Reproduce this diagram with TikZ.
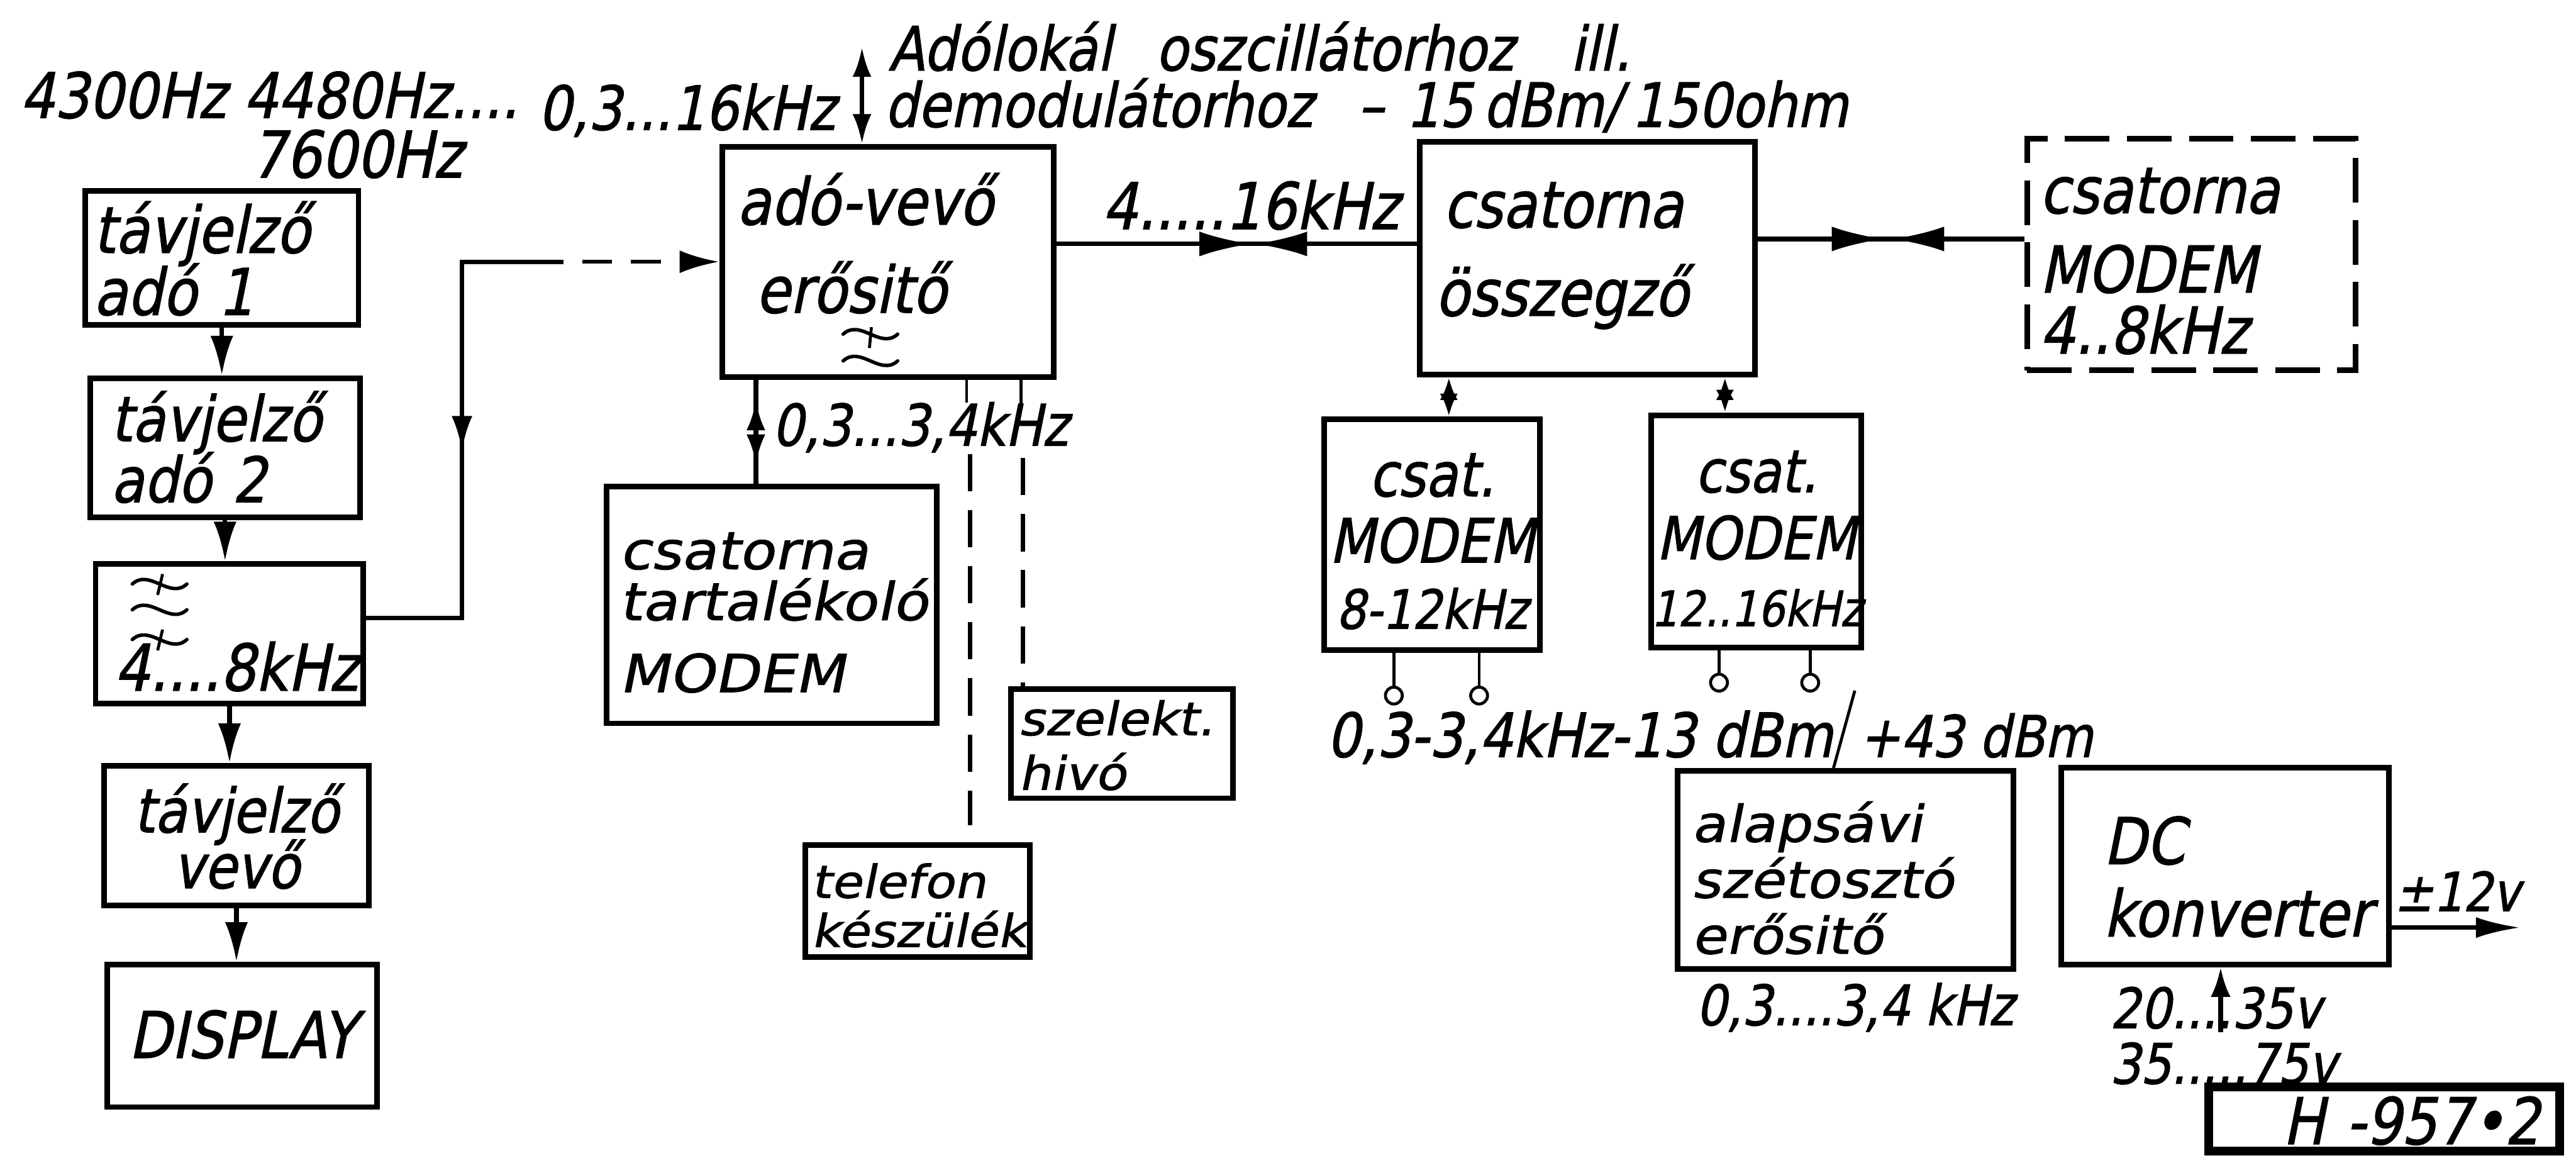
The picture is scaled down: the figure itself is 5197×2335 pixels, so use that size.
\documentclass[tikz,border=0pt]{standalone}
\usepackage{fontspec}
\usetikzlibrary{arrows.meta,decorations.markings}
\newfontfamily\hand{DejaVu Sans}[FakeSlant=0.2,FakeStretch=0.86,FakeBold=1.2]
\newfontfamily\handw{DejaVu Sans}[FakeSlant=0.2,FakeStretch=1.1,FakeBold=1.2]
\newcommand\fsz[2]{\fontsize{#1pt}{#2pt}\selectfont\lineskiplimit=-100pt\hyphenpenalty=10000\exhyphenpenalty=10000\relax}
\lineskiplimit=-100pt
\begin{document}
\begin{tikzpicture}[x=0.01cm,y=-0.01cm,
  blk/.style={draw,line width=3.2pt,rectangle,inner sep=0pt,align=left},
  lbl/.style={anchor=base west,inner sep=0pt,font=\hand\fsz{37}{44}},
  wire/.style={line width=2.6pt},
  thinw/.style={line width=1.7pt},
  dashw/.style={line width=2.4pt,dash pattern=on 0.75cm off 0.38cm},
  arr/.style={-{Latex[length=8mm,width=4.6mm]}},
  darr/.style={{Latex[length=6mm,width=3.8mm]}-{Latex[length=6mm,width=3.8mm]}},
  darrs/.style={{Latex[length=4.6mm,width=3.6mm]}-{Latex[length=4.6mm,width=3.6mm]}},
  midpair/.style 2 args={postaction={decorate},decoration={markings,
     mark=at position #1 with {\arrow{Latex[length=10.5mm,width=5mm]}},
     mark=at position #2 with {\arrowreversed{Latex[length=10.5mm,width=5mm]}}}},
  vpair/.style 2 args={postaction={decorate},decoration={markings,
     mark=at position #1 with {\arrowreversed{Latex[length=6mm,width=3.8mm]}},
     mark=at position #2 with {\arrow{Latex[length=6mm,width=3.8mm]}}}},
  pics/tld/.style={code={\draw[line width=2pt,line cap=round] (-55,0) .. controls (-20,-32) and (20,32) .. (55,0);}},
]
\fill[white] (0,0) rectangle (5197,2335);
\useasboundingbox (0,0) rectangle (5197,2335);

% ---------- left column ----------
\node[blk,font=\hand\fsz{37}{35.6},minimum width=5.51cm,minimum height=2.70cm,text width=5.17cm,text height=0cm,text depth=0.2cm] (tav1) at (447.5,520) {távjelző\\adó 1};
\node[blk,font=\hand\fsz{36}{35},minimum width=5.44cm,minimum height=2.81cm,text width=4.60cm,text height=0cm,text depth=0.27cm] (tav2) at (454,903.5) {távjelző\\adó 2};
\node[blk,font=\hand\fsz{37}{40},minimum width=5.40cm,minimum height=2.81cm,text width=4.64cm,text height=2.29cm,text depth=0cm] (filt) at (463,1278.5) {4....8kHz};
\node[blk,align=center,font=\hand\fsz{35}{32},minimum width=5.34cm,minimum height=2.81cm,text width=5.34cm,text height=0cm,text depth=0.13cm] (vevo) at (477,1685.5) {távjelző\\vevő};
\node[blk,align=center,font=\hand\fsz{37}{40},minimum width=5.44cm,minimum height=2.87cm,text width=5.44cm,text height=0.89cm,text depth=0cm] (disp) at (489,2089.5) {DISPLAY};

% ---------- middle ----------
\node[blk,font=\hand\fsz{37}{50.6},minimum width=6.69cm,minimum height=4.64cm,text width=6.09cm,text height=0cm,text depth=1.5cm] (adovevo) at (1791.5,528) {adó-vevő\\\hspace*{0.38cm}erősitő};
\node[blk,font=\handw\fsz{30}{29.3},minimum width=6.66cm,minimum height=4.77cm,text width=6.14cm,text height=0cm,text depth=1.45cm] (tartalek) at (1557,1220.5) {csatorna\\tartalékoló\\[0.42cm]MODEM};
\node[blk,font=\handw\fsz{26}{28.2},minimum width=4.52cm,minimum height=2.25cm,text width=4.28cm,text height=0cm,text depth=0.13cm] (telefon) at (1851,1817.5) {telefon\\készülék};
\node[blk,font=\handw\fsz{26.5}{31.3},minimum width=4.47cm,minimum height=2.20cm,text width=4.17cm,text height=0cm,text depth=0.34cm] (szelekt) at (2263.5,1500) {szelekt.\\hivó};

% ---------- right part ----------
\node[blk,font=\hand\fsz{37}{50.6},minimum width=6.76cm,minimum height=4.69cm,text width=6.12cm,text height=0cm,text depth=1.23cm] (osszegzo) at (3202,520.5) {\hspace*{0.16cm}csatorna\\összegző};
\node[blk,dash pattern=on 0.9cm off 0.35cm,font=\hand\fsz{37}{35},minimum width=6.62cm,minimum height=4.67cm,text width=6.12cm,text height=0cm,text depth=1.67cm] (m48) at (4421,513.5) {csatorna\\[0.37cm]MODEM\\4..8kHz};
\node[blk,align=center,font=\hand\fsz{35}{38},minimum width=4.36cm,minimum height=4.65cm,text width=4.36cm,text height=0cm,text depth=1.55cm] (m812) at (2889,1078.5) {csat.\\MODEM\\{\fsz{31}{38}8-12kHz}};
\node[blk,align=center,font=\hand\fsz{34}{38.4},minimum width=4.24cm,minimum height=4.68cm,text width=4.24cm,text height=0cm,text depth=1.58cm] (m1216) at (3543,1072) {csat.\\MODEM\\{\fsz{28}{38.4}12..16kHz}};
\node[blk,font=\handw\fsz{29}{32.1},minimum width=6.77cm,minimum height=3.99cm,text width=6.21cm,text height=0cm,text depth=1.13cm] (alap) at (3723.5,1754.5) {alapsávi\\szétosztó\\erősitő};
\node[blk,font=\hand\fsz{37}{41.5},minimum width=6.60cm,minimum height=3.96cm,text width=6.40cm,text height=0cm,text depth=0.08cm] (dc) at (4489,1747) {\hspace*{0.75cm}DC\\\hspace*{0.75cm}konverter};
\node[blk,line width=5pt,align=right,font=\hand\fsz{37}{40},minimum width=7.08cm,minimum height=1.30cm,text width=6.28cm,text height=1.02cm,text depth=0cm] (hbox) at (4810,2257) {H -957•2};

% ---------- free labels ----------
\node[lbl,font=\hand\fsz{36}{44}] (l4300) at (40,238) {4300Hz 4480Hz....};
\node[lbl] (l7600) at (505,358) {7600Hz};
\node[lbl,font=\hand\fsz{35}{40}] (l016) at (1085,262) {0,3...16kHz};
\node[lbl,font=\hand\fsz{35}{44}] (ladol) at (1792,142) {Adólokál\hspace{0.55cm} oszcillátorhoz\hspace{0.8cm} ill.};
\node[lbl,font=\hand\fsz{35}{44}] (ldem) at (1784,256) {demodulátorhoz\hspace{0.9cm}–\hspace{0.45cm}15\,dBm/\,150ohm};
\node[lbl] (l416) at (2223,462) {4.....16kHz};
\node[lbl,font=\hand\fsz{33}{40}] (l0334) at (1557,899) {0,3...3,4kHz};
\node[lbl,font=\hand\fsz{35}{40}] (lb1) at (2676,1527) {0,3-3,4kHz-13 dBm};
\node[lbl,font=\hand\fsz{33}{40}] (lb2) at (3750,1527) {+43 dBm};
\node[lbl,font=\hand\fsz{32}{40}] (lalapf) at (3421,2068) {0,3....3,4 kHz};
\node[lbl,font=\hand\fsz{31}{40}] (l12v) at (4830,1838) {±12v};
\node[lbl,font=\hand\fsz{32}{40}] (l2035) at (4256,2074) {20....35v};
\node[lbl,font=\hand\fsz{32}{40}] (l3575) at (4256,2186) {35.....75v};

% ---------- connectors ----------
\draw[wire,arr] (tav1.south) -- (tav1.south |- tav2.north);
\draw[wire,arr] (tav2.south) -- (tav2.south |- filt.north);
\draw[wire,arr] (filt.south) -- (filt.south |- vevo.north);
\draw[wire,arr] (vevo.south) -- (vevo.south |- disp.north);

\coordinate (f1) at (932,1247);
\coordinate (f2) at (932,528);
\coordinate (f3) at (1137,528);
\draw[wire,line join=miter] (filt.east |- f1) -- (f1) -- (f2) -- (f3);
\draw[wire,postaction={decorate},decoration={markings,mark=at position 0.47 with {\arrowreversed{Latex[length=7mm,width=4.2mm]}}}] (f1) -- (f2);
\draw[dashw,dash pattern=on 0.6cm off 0.38cm,dash phase=0.6cm,arr] (f3) -- (adovevo.west |- f3);

\coordinate (tp) at (1739,95);
\draw[wire,darr] (tp) -- (tp |- adovevo.north);

\coordinate (h1) at (2500,492);
\draw[wire,midpair={0.541}{0.551}] (adovevo.east |- h1) -- (osszegzo.west |- h1);
\coordinate (h2) at (3800,482);
\draw[wire,midpair={0.473}{0.504}] (osszegzo.east |- h2) -- (m48.west |- h2);

\coordinate (t1) at (1525,870);
\draw[wire,vpair={0.2}{0.81}] (adovevo.south -| t1) -- (tartalek.north -| t1);

\coordinate (s1) at (1950,812);
\coordinate (s2) at (2060,814);
\draw[thinw] (adovevo.south -| s1) -- (s1);
\draw[thinw] (adovevo.south -| s2) -- (s2);
\coordinate (d1) at (1957,916);
\coordinate (d1e) at (1957,1665);
\coordinate (d2) at (2064,924);
\draw[dashw] (d1) -- (d1e);
\draw[dashw] (d2) -- (d2 |- szelekt.north);

\coordinate (q1) at (2923,800);
\coordinate (q2) at (3480,800);
\draw[wire,darrs] (osszegzo.south -| q1) -- (m812.north -| q1);
\draw[wire,darrs] (osszegzo.south -| q2) -- (m1216.north -| q2);

\node[circle,draw,thinw,fill=white,minimum size=0.34cm,inner sep=0pt] (o1) at (2812,1403) {};
\node[circle,draw,thinw,fill=white,minimum size=0.34cm,inner sep=0pt] (o2) at (2984,1403) {};
\node[circle,draw,thinw,fill=white,minimum size=0.34cm,inner sep=0pt] (o3) at (3468,1377) {};
\node[circle,draw,thinw,fill=white,minimum size=0.34cm,inner sep=0pt] (o4) at (3652,1377) {};
\draw[thinw] (m812.south -| o1) -- (o1.north);
\draw[thinw] (m812.south -| o2) -- (o2.north);
\draw[thinw] (m1216.south -| o3) -- (o3.north);
\draw[thinw] (m1216.south -| o4) -- (o4.north);

\coordinate (sl) at (3742,1393);
\coordinate (slb) at (3699,1500);
\draw[thinw] (sl) -- (slb |- alap.north);

\coordinate (v12) at (5085,1871);
\draw[wire,-{Latex[length=9mm,width=4.2mm]}] (dc.east |- v12) -- (v12);
\coordinate (vin) at (4480,2082);
\draw[wire,-{Latex[length=6mm,width=4mm]}] (vin) -- (vin |- dc.south);

% ---------- filter symbols ----------
\pic at (322,1178) {tld};
\pic at (322,1230) {tld};
\pic at (322,1290) {tld};
\draw[thinw] (328,1158) -- (318,1200);
\draw[thinw] (328,1270) -- (318,1312);
\pic at (1756,674) {tld};
\pic at (1756,728) {tld};
\draw[thinw] (1758,660) -- (1754,702);
\end{tikzpicture}
\end{document}
